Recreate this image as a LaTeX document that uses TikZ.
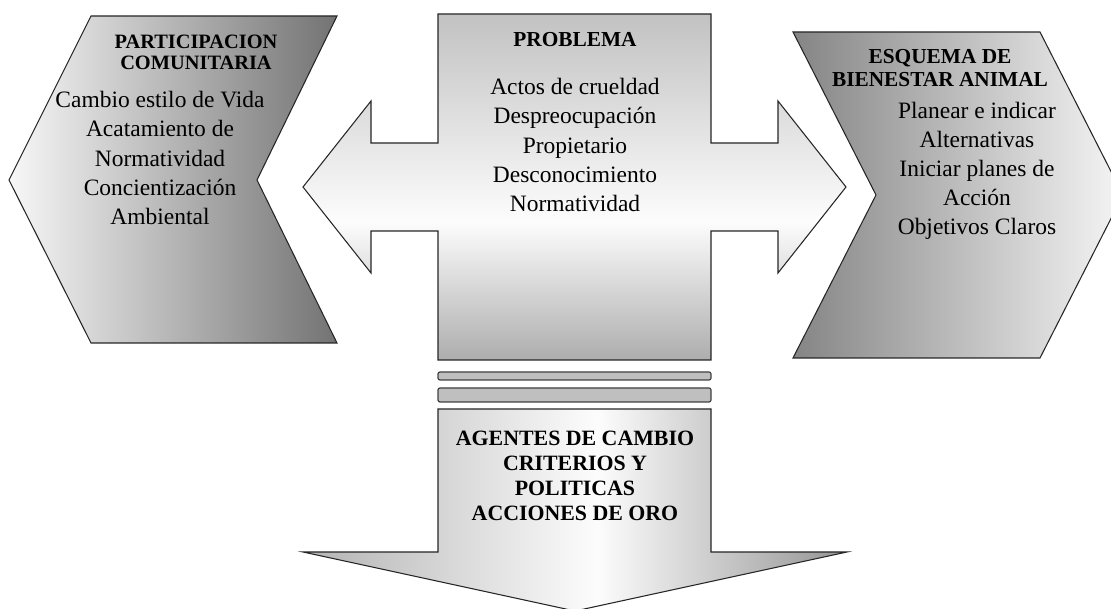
\documentclass[tikz,border=0pt]{standalone}
\usepackage{fontspec}
\setmainfont{Liberation Serif}

% shadings with a light band (path spans 25bp--75bp)
\pgfdeclareverticalshading{crossshade}{100bp}{color(0bp)=(black!32); color(25bp)=(black!32);
  color(45bp)=(black!1); color(75bp)=(black!24); color(100bp)=(black!24)}
\pgfdeclarehorizontalshading{downshade}{100bp}{color(0bp)=(black!30); color(25bp)=(black!30);
  color(52bp)=(black!1); color(75bp)=(black!42); color(100bp)=(black!42)}

\begin{document}
\begin{tikzpicture}[
    x=0.75pt, y=-0.75pt,
    panel/.style={draw=black!85, line width=0.8pt, line join=miter},
    bar/.style={draw=black!75, line width=0.9pt, fill=black!25, rounded corners=1.5pt},
    heading/.style={font=\fontsize{16}{17.5}\selectfont\bfseries, align=center},
    body/.style={font=\fontsize{17.6}{21.8}\selectfont, align=center}
]
   \useasboundingbox (0,0) rectangle (1111,609);
   \clip (0,0) rectangle (1111,609);

   % Side chevrons
   \path[panel, left color=black!3, right color=black!55]
     (91,16) -- (337,16) -- (257,180) -- (337,343) -- (91,343) -- (9,180) -- cycle;
   \path[panel, left color=black!48, right color=black!4]
     (793,32) -- (1040,32) -- (1123,195) -- (1040,358) -- (793,358) -- (876,195) -- cycle;

   % Central box with arrows to both sides
   \path[panel, shading=crossshade]
     (438,14) -- (711,14) -- (711,143) -- (778,143) -- (778,101) -- (846,187)
     -- (778,273) -- (778,231) -- (711,231) -- (711,360) -- (438,360)
     -- (438,231) -- (371,231) -- (371,273) -- (303,187) -- (371,101)
     -- (371,143) -- (438,143) -- cycle;

   % Bars and arrow down
   \path[bar] (438,372) rectangle (711,380);
   \path[bar] (438,388) rectangle (711,402);
   \path[panel, shading=downshade]
     (438,409) -- (711,409) -- (711,552) -- (847,552) -- (575,611)
     -- (303,552) -- (438,552) -- cycle;

   % Texts
   \node[heading, font=\fontsize{15.3}{15.8}\selectfont\bfseries] (partHead) at (196,52) {PARTICIPACION\\COMUNITARIA};
   \node[body] (partText) at (160,158) {Cambio estilo de Vida\\Acatamiento de\\Normatividad\\Concientización\\Ambiental};

   \node[heading] (probHead) at (575,40) {PROBLEMA};
   \node[body] (probText) at (575,145) {Actos de crueldad\\Despreocupación\\Propietario\\Desconocimiento\\Normatividad};

   \node[heading] (bienHead) at (940,68) {ESQUEMA DE\\BIENESTAR ANIMAL};
   \node[body] (bienText) at (977,171) {Planear e indicar\\Alternativas\\Iniciar planes de\\Acción\\Objetivos Claros};

   \node[heading, font=\fontsize{16.4}{18.8}\selectfont\bfseries] (agentText) at (575,476) {AGENTES DE CAMBIO\\CRITERIOS Y\\POLITICAS\\ACCIONES DE ORO};
\end{tikzpicture}
\end{document}
